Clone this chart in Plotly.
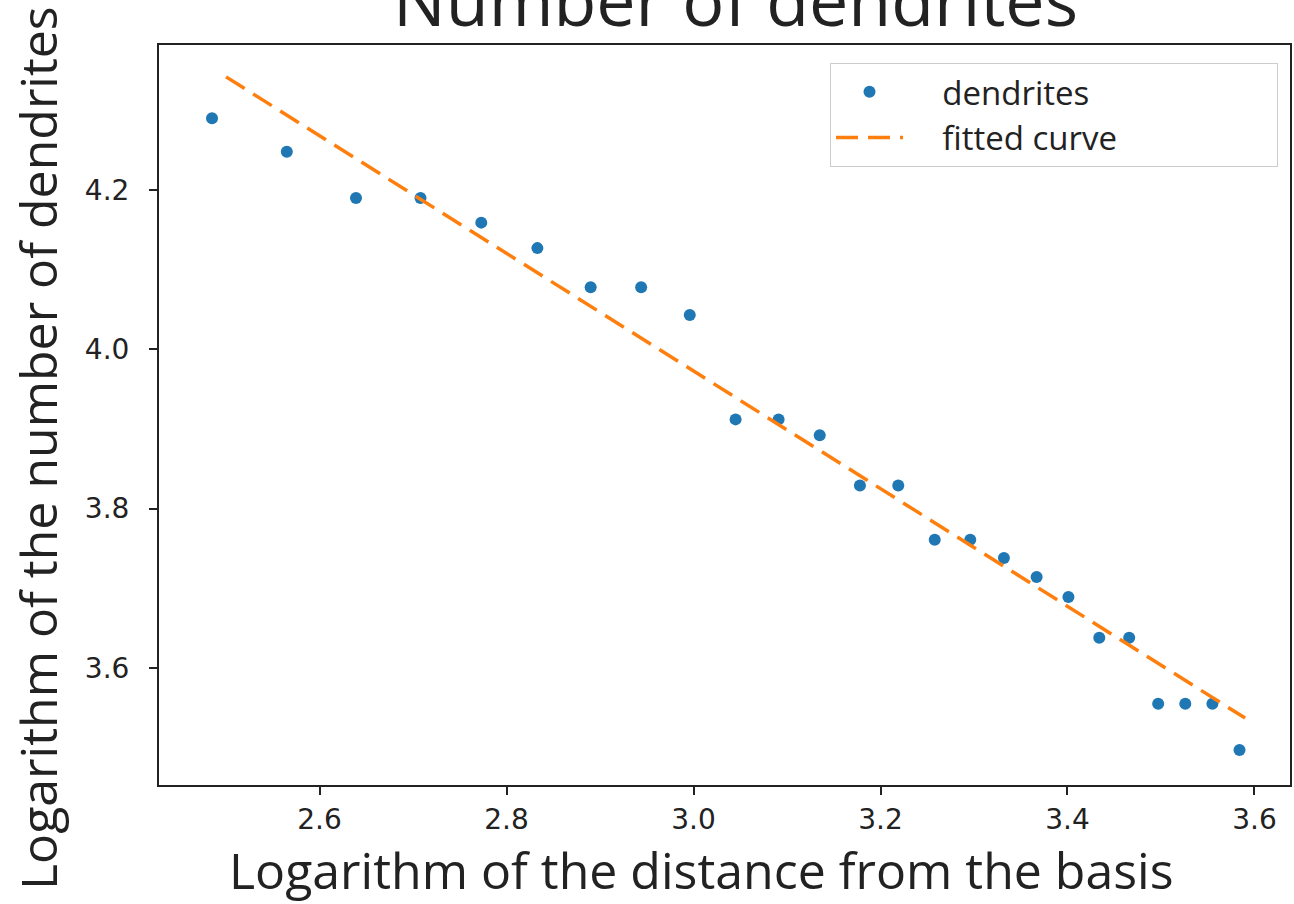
import plotly.graph_objects as go

# Data (natural logarithms)
log_distance = [2.485, 2.565, 2.639, 2.708, 2.773, 2.833, 2.890, 2.944, 2.996,
                3.045, 3.091, 3.135, 3.178, 3.219, 3.258, 3.296, 3.332, 3.367,
                3.401, 3.434, 3.466, 3.497, 3.526, 3.555, 3.584]
log_dendrites = [4.290, 4.248, 4.190, 4.190, 4.159, 4.127, 4.078, 4.078, 4.043,
                 3.912, 3.912, 3.892, 3.829, 3.829, 3.761, 3.761, 3.738, 3.714,
                 3.689, 3.638, 3.638, 3.555, 3.555, 3.555, 3.497]
fit_x = [2.500, 3.590]
fit_y = [4.342, 3.537]

x_ticks = [2.6, 2.8, 3.0, 3.2, 3.4, 3.6]
y_ticks = [3.6, 3.8, 4.0, 4.2]

title_text = "Number of dendrites"
x_title = "Logarithm of the distance from the basis"
y_title = "Logarithm of the number of dendrites"

label_font = "Open Sans"
tick_font = "DejaVu Sans"
lead = "\u00a0" * 4
trail = "\u00a0" * 18

fig = go.Figure()
fig.add_trace(go.Scatter(
    x=log_distance, y=log_dendrites, mode="markers", name=lead + "dendrites",
    marker=dict(color="#1f77b4", size=12, line=dict(width=0)),
))
fig.add_trace(go.Scatter(
    x=fit_x, y=fit_y, mode="lines", name=lead + "fitted curve" + trail,
    line=dict(color="#ff7f0e", width=3.5, dash="22px,10px"),
))

axis_common = dict(
    showgrid=False, zeroline=False, showline=True, linecolor="#222222",
    linewidth=2, mirror=True, ticks="outside", ticklen=8, tickwidth=2,
    tickcolor="#222222", tickfont=dict(family=tick_font, size=28, color="#222222"),
    automargin=False,
)

fig.update_layout(
    width=1294, height=904,
    margin=dict(l=159, r=4, t=45, b=119, autoexpand=False),
    paper_bgcolor="white", plot_bgcolor="white",
    showlegend=True,
    legend=dict(
        x=0.9894, y=0.976, xanchor="right", yanchor="top",
        bgcolor="white", bordercolor="#cccccc", borderwidth=1,
        font=dict(family=label_font, size=33, color="#222222"),
        itemwidth=67,
    ),
    xaxis=dict(axis_common, range=[2.4283, 3.638], tickvals=x_ticks,
               ticktext=[f"{v:.1f}" for v in x_ticks]),
    yaxis=dict(axis_common, range=[3.453, 4.382], tickvals=y_ticks,
               ticktext=[f"{v:.1f}" for v in y_ticks], ticklabelstandoff=14),
    annotations=[
        dict(text=title_text, xref="paper", yref="paper",
             x=0.51, y=1.062, xanchor="center", yanchor="middle", showarrow=False,
             font=dict(family=label_font, size=70, color="#222222")),
        dict(text=x_title, xref="paper", yref="paper",
             x=0.480, y=-0.1149, xanchor="center", yanchor="middle", showarrow=False,
             font=dict(family=label_font, size=50, color="#222222")),
        dict(text=y_title, xref="paper", yref="paper", textangle=-90,
             x=-0.1070, y=0.4554, xanchor="center", yanchor="middle", showarrow=False,
             font=dict(family=label_font, size=50, color="#222222")),
    ],
)

fig.write_html("out.html", config={"displayModeBar": False},
               post_script="document.body.style.margin='0';")
